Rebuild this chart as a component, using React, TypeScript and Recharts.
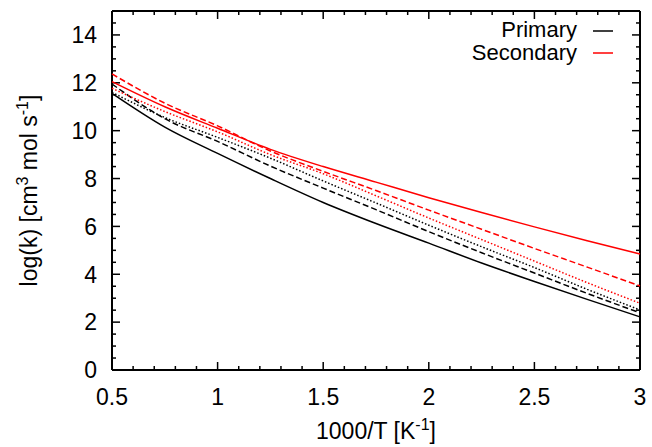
import { LineChart, Line, XAxis, YAxis, Customized } from "recharts";

// 1000/T sample points
const invT = [0.5, 0.75, 1, 1.25, 1.5, 1.75, 2, 2.25, 2.5, 2.75, 3];

// log(k)
const primarySolid = [11.56, 10.15, 9.05, 8.0, 7.0, 6.12, 5.3, 4.47, 3.7, 2.95, 2.22];
const primaryDashed = [11.95, 10.5, 9.55, 8.52, 7.6, 6.7, 5.78, 4.9, 4.05, 3.2, 2.39];
const primaryDotted = [11.6, 10.55, 9.72, 8.85, 7.9, 6.98, 6.05, 5.15, 4.28, 3.37, 2.51];
const secondarySolid = [12.05, 11.0, 10.1, 9.22, 8.5, 7.85, 7.2, 6.58, 5.98, 5.4, 4.85];
const secondaryDashed = [12.37, 11.15, 10.2, 9.15, 8.3, 7.5, 6.68, 5.88, 5.08, 4.3, 3.51];
const secondaryDotted = [11.77, 10.8, 9.95, 9.0, 8.2, 7.28, 6.35, 5.45, 4.55, 3.65, 2.79];

const xTicks = Array.from({ length: 26 }, (_, i) => Math.round((0.5 + i * 0.1) * 10) / 10);
const yTicks = Array.from({ length: 30 }, (_, i) => i * 0.5);

const legendItems = [
  { name: "Primary", color: "#000000" },
  { name: "Secondary", color: "#ff0000" },
];

const series = [
  { key: "pSolid", values: primarySolid, color: "#000000", dash: undefined },
  { key: "pDashed", values: primaryDashed, color: "#000000", dash: "6 3" },
  { key: "pDotted", values: primaryDotted, color: "#000000", dash: "1.5 2" },
  { key: "sSolid", values: secondarySolid, color: "#ff0000", dash: undefined },
  { key: "sDashed", values: secondaryDashed, color: "#ff0000", dash: "6 3" },
  { key: "sDotted", values: secondaryDotted, color: "#ff0000", dash: "1.5 2" },
];

const data = invT.map((x, i) => {
  const row: Record<string, number> = { x };
  series.forEach((s) => (row[s.key] = s.values[i]));
  return row;
});

const W = 652;
const H = 447;
const MARGIN = { top: 11, right: 12, left: 0, bottom: 0 };
const Y_AXIS_W = 112;
const X_AXIS_H = 77;
const X_DOMAIN = [0.5, 3];
const Y_DOMAIN = [0, 15];

// plot box, from the layout numbers above
const L = MARGIN.left + Y_AXIS_W;
const R = W - MARGIN.right;
const T = MARGIN.top;
const B = H - MARGIN.bottom - X_AXIS_H;

const FONT = "'Liberation Sans', Arial, Helvetica, sans-serif";
const FS = 23;
const MAJOR = 8;
const MINOR = 4;

const isMajorX = (v: number) => Math.abs(v * 2 - Math.round(v * 2)) < 1e-6;
const isMajorY = (v: number) => Math.abs(v / 2 - Math.round(v / 2)) < 1e-6;

const BottomTick = ({ x, y, payload }: any) =>
  isMajorX(payload.value) ? (
    <text x={x} y={y + 35} textAnchor="middle" fontSize={FS} fontFamily={FONT} fill="#000">
      {String(payload.value)}
    </text>
  ) : (
    <g />
  );

const LeftTick = ({ x, y, payload }: any) =>
  isMajorY(payload.value) ? (
    <text x={x - 15} y={y} dy="0.36em" textAnchor="end" fontSize={FS} fontFamily={FONT} fill="#000">
      {String(payload.value)}
    </text>
  ) : (
    <g />
  );

// gnuplot-style border with inward ticks on all four sides
const Frame = () => {
  const px = (v: number) => L + ((v - X_DOMAIN[0]) / (X_DOMAIN[1] - X_DOMAIN[0])) * (R - L);
  const py = (v: number) => B - ((v - Y_DOMAIN[0]) / (Y_DOMAIN[1] - Y_DOMAIN[0])) * (B - T);
  return (
    <g>
      {xTicks.map((v) => {
        const len = isMajorX(v) ? MAJOR : MINOR;
        return (
          <g key={`x${v}`}>
            <line x1={px(v)} x2={px(v)} y1={B} y2={B - len} stroke="#000" strokeWidth={1.5} />
            <line x1={px(v)} x2={px(v)} y1={T} y2={T + len} stroke="#000" strokeWidth={1.5} />
          </g>
        );
      })}
      {yTicks.map((v) => {
        const len = isMajorY(v) ? MAJOR : MINOR;
        return (
          <g key={`y${v}`}>
            <line x1={L} x2={L + len} y1={py(v)} y2={py(v)} stroke="#000" strokeWidth={1.5} />
            <line x1={R} x2={R - len} y1={py(v)} y2={py(v)} stroke="#000" strokeWidth={1.5} />
          </g>
        );
      })}
      <line x1={L} x2={R} y1={T} y2={T} stroke="#000" strokeWidth={2} />
      <line x1={R} x2={R} y1={T} y2={B} stroke="#000" strokeWidth={2} />
      <line x1={L} x2={R} y1={B} y2={B} stroke="#000" strokeWidth={2} />
      <line x1={L} x2={L} y1={T} y2={B} stroke="#000" strokeWidth={2} />
    </g>
  );
};

const YTitle = ({ viewBox }: any) => {
  const cy = viewBox.y + viewBox.height / 2;
  return (
    <text
      transform={`translate(37,${cy}) rotate(-90)`}
      textAnchor="middle"
      fontSize={FS}
      fontFamily={FONT}
      fill="#000"
    >
      log(k) [cm
      <tspan dy={-9} fontSize={16}>3</tspan>
      <tspan dy={9}> mol s</tspan>
      <tspan dy={-9} fontSize={16}>-1</tspan>
      <tspan dy={9}>]</tspan>
    </text>
  );
};

const XTitle = ({ viewBox }: any) => {
  const cx = viewBox.x + viewBox.width / 2;
  return (
    <text x={cx} y={439} textAnchor="middle" fontSize={FS} fontFamily={FONT} fill="#000">
      1000/T [K
      <tspan dy={-9} fontSize={16}>-1</tspan>
      <tspan dy={9}>]</tspan>
    </text>
  );
};

const KeyBox = () => (
  <g>
    {legendItems.map((e, i) => (
      <g key={e.name}>
        <text
          x={577}
          y={30 + i * 23}
          dy="0.33em"
          textAnchor="end"
          fontSize={22}
          fontFamily={FONT}
          fill="#000"
        >
          {e.name}
        </text>
        <line x1={593} x2={613} y1={31 + i * 22} y2={31 + i * 22} stroke={e.color} strokeWidth={1.5} />
      </g>
    ))}
  </g>
);

export default function App() {
  return (
    <div style={{ position: "absolute", left: 0, top: 0, width: W, height: H, background: "#fff" }}>
      <LineChart width={W} height={H} data={data} margin={MARGIN}>
        <XAxis
          dataKey="x"
          type="number"
          domain={X_DOMAIN}
          ticks={xTicks}
          interval={0}
          height={X_AXIS_H}
          tickSize={0}
          tickMargin={0}
          tickLine={false}
          axisLine={false}
          tick={<BottomTick />}
          label={<XTitle />}
        />
        <YAxis
          type="number"
          domain={Y_DOMAIN}
          ticks={yTicks}
          interval={0}
          width={Y_AXIS_W}
          tickSize={0}
          tickMargin={0}
          tickLine={false}
          axisLine={false}
          tick={<LeftTick />}
          label={<YTitle />}
        />
        <Customized component={Frame} />
        <Customized component={KeyBox} />
        {series.map((s) => (
          <Line
            key={s.key}
            dataKey={s.key}
            type="monotone"
            stroke={s.color}
            strokeWidth={1.5}
            strokeDasharray={s.dash}
            dot={false}
            isAnimationActive={false}
          />
        ))}
      </LineChart>
    </div>
  );
}
